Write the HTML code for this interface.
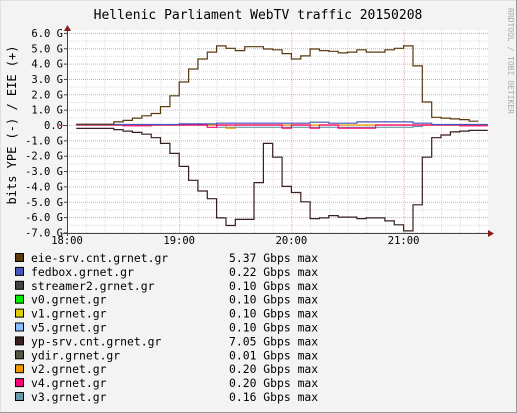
<!DOCTYPE html>
<html><head><meta charset="utf-8"><style>
html,body{margin:0;padding:0;background:#f3f3f3;}
svg{display:block;font-family:"DejaVu Sans Mono","Liberation Mono",monospace;}
</style></head><body>
<svg id="chart" width="517" height="413" viewBox="0 0 517 413" xmlns="http://www.w3.org/2000/svg">
<rect x="0" y="0" width="517" height="413" fill="#f3f3f3" stroke="#cfcfcf"/>
<line x1="0" y1="412.5" x2="517" y2="412.5" stroke="#999"/>
<line x1="516.5" y1="0" x2="516.5" y2="413" stroke="#999"/>
<text x="258" y="19" font-size="13" text-anchor="middle" fill="#000">Hellenic Parliament WebTV traffic 20150208</text>
<text transform="translate(16,125) rotate(-90)" font-size="12" text-anchor="middle" fill="#000">bits YPE (-) / EIE (+)</text>
<text transform="translate(508,8) rotate(90)" font-size="8" fill="#aaa">RRDTOOL / TOBI OETIKER</text>
<rect x="67" y="30" width="421" height="203" fill="#ffffff"/>
<g id="grid"></g>
<g id="series"></g>
<g id="axes"></g>
<g id="legend"></g>
</svg>
<script>
const ticksY = [6,5,4,3,2,1,0,-1,-2,-3,-4,-5,-6,-7];
const tickLabelsY = ["6.0 G","5.0 G","4.0 G","3.0 G","2.0 G","1.0 G","0.0","-1.0 G","-2.0 G","-3.0 G","-4.0 G","-5.0 G","-6.0 G","-7.0 G"];
const ticksX = [0,60,120,180];
const tickLabelsX = ["18:00","19:00","20:00","21:00"];
// minutes after 18:00 of first sample, 5 min step
const startMin = 5;
const stepMin = 5;
const eieSrv = [0.05,0.05,0.05,0.05,0.2,0.3,0.45,0.6,0.75,1.2,1.9,2.8,3.65,4.3,4.75,5.15,5.0,4.85,5.1,5.1,4.95,4.9,4.65,4.3,4.5,4.95,4.85,4.8,4.7,4.75,4.9,4.75,4.75,4.9,5.0,5.15,3.85,1.5,0.5,0.45,0.4,0.35,0.25];
const ypSrv = [-0.22,-0.22,-0.22,-0.22,-0.3,-0.4,-0.48,-0.6,-0.83,-1.2,-1.85,-2.7,-3.6,-4.3,-4.8,-6.05,-6.55,-6.15,-6.15,-3.75,-1.2,-2.1,-4.0,-4.4,-5.0,-6.1,-6.05,-5.9,-6.0,-6.0,-6.1,-6.05,-6.05,-6.25,-6.5,-6.9,-5.2,-2.1,-0.83,-0.65,-0.45,-0.4,-0.35,-0.35];
const fedbox = [0.03,0.03,0.03,0.03,0.03,0.03,0.03,0.03,0.03,0.03,0.03,0.07,0.07,0.07,0.07,0.12,0.12,0.12,0.12,0.12,0.12,0.12,0.12,0.12,0.12,0.18,0.18,0.12,0.12,0.12,0.2,0.2,0.2,0.2,0.2,0.2,0.12,0.12,0.03,0.03,0.03,0.03,0.03,0.03];
const v3 = [0,0,0,0,0,0,0,0,0,0,0,0,0,0,0,-0.15,-0.15,-0.15,-0.15,-0.15,-0.15,-0.15,-0.15,-0.15,-0.15,-0.15,-0.15,-0.15,-0.15,-0.15,-0.15,-0.15,-0.15,-0.15,-0.15,-0.15,-0.1,0,0,0,0,0,0,0];
const v4 = [0,0,0,0,0,-0.05,-0.05,-0.05,0,0,0,0,0,0,-0.15,0,0,0,0,0,0,0,-0.2,0,0,-0.2,0,0,-0.2,-0.2,-0.2,-0.2,0,0,0,0,0,0,0,0,0,-0.05,-0.05,-0.05];
const v2 = [0,0,0,0,0,0,0,0,0,0,0,0,0,0,0,0,-0.2,0,0,0,0,0,0,0,0,0,0,0,0,0,0,0,0,0,0,0,0,0,0,0,0,0,0,0];
const legendNames = ["eie-srv.cnt.grnet.gr","fedbox.grnet.gr","streamer2.grnet.gr","v0.grnet.gr","v1.grnet.gr","v5.grnet.gr","yp-srv.cnt.grnet.gr","ydir.grnet.gr","v2.grnet.gr","v4.grnet.gr","v3.grnet.gr"];
const legendMax = ["5.37","0.22","0.10","0.10","0.10","0.10","7.05","0.01","0.20","0.20","0.16"];
const legendColors = ["#5a3a0f","#4455bb","#444444","#00ee00","#ddcc00","#88bbff","#3a1f1f","#555544","#ee9900","#ff0077","#6699aa"];

const NS="http://www.w3.org/2000/svg";
const X0=67, PXMIN=112.2/60, Y0=125, PXG=15.35;
const xs=m=>X0+m*PXMIN;
const ys=v=>Y0-v*PXG;
function mk(tag,attrs,parent){const e=document.createElementNS(NS,tag);for(const k in attrs)e.setAttribute(k,attrs[k]);parent.appendChild(e);return e;}
const grid=document.getElementById('grid'),axes=document.getElementById('axes'),ser=document.getElementById('series'),leg=document.getElementById('legend');
for(let v=-7;v<=6.01;v+=0.5){if(Math.abs(v-Math.round(v))<0.01)continue;
 const l=mk('line',{x1:X0,x2:488,y1:ys(v)+0.5,y2:ys(v)+0.5,stroke:'#dddddd','stroke-dasharray':'1,1'},grid);
 
 }
for(let m=10;m<=225;m+=10){if(m%60===0)continue;
 const l=mk('line',{x1:xs(m)+0.5,x2:xs(m)+0.5,y1:30,y2:233,stroke:'#dddddd','stroke-dasharray':'1,1'},grid);
 
 }
ticksY.forEach((v,i)=>{
 const l=mk('line',{x1:X0,x2:488,y1:ys(v)+0.5,y2:ys(v)+0.5,stroke:'#f4a0a0','stroke-dasharray':'1,1'},grid);
 
 
 const t=mk('text',{x:63,y:ys(v)+4,'font-size':'10.5','text-anchor':'end',fill:'#000'},axes);t.textContent=tickLabelsY[i];
 
 
});
ticksX.forEach((m,i)=>{
 if(m>0){const l=mk('line',{x1:xs(m)+0.5,x2:xs(m)+0.5,y1:30,y2:233,stroke:'#f4a0a0','stroke-dasharray':'1,1'},grid);
 
 }
 const t=mk('text',{x:xs(m),y:244,'font-size':'10.5','text-anchor':'middle',fill:'#000'},axes);t.textContent=tickLabelsX[i];
 
 
});
function stepPath(arr,color,name){
 let d='';arr.forEach((v,i)=>{if(v===null)return;const a=xs(startMin+i*stepMin),b=xs(startMin+(i+1)*stepMin);const y=ys(v);
  d+=(d?'L':'M')+a.toFixed(1)+','+y.toFixed(1)+'L'+b.toFixed(1)+','+y.toFixed(1);});
 const p=mk('path',{d:d,fill:'none',stroke:color,'stroke-width':1.2},ser);
 
 
}
stepPath(v3,legendColors[10],'series-v3');
stepPath(v2,legendColors[8],'series-v2');
stepPath(v4,legendColors[9],'series-v4');
stepPath(fedbox,legendColors[1],'series-fedbox');
stepPath(eieSrv,legendColors[0],'series-eie-srv');
stepPath(ypSrv,legendColors[6],'series-yp-srv');
const zl=mk('line',{x1:60,x2:67,y1:Y0+0.5,y2:Y0+0.5,stroke:'#ff0000','stroke-dasharray':'2,1'},axes);


const ya=mk('line',{x1:X0+0.5,x2:X0+0.5,y1:28,y2:236,stroke:'#444'},axes);


const xa=mk('line',{x1:63,x2:490,y1:233.5,y2:233.5,stroke:'#444'},axes);


const ay=mk('path',{d:'M64,31L71,31L67.5,25Z',fill:'#8b1a1a'},axes);


const ax=mk('path',{d:'M488,230L488,237L494,233.5Z',fill:'#8b1a1a'},axes);


for(let v=-7;v<=6;v++){const t=mk('line',{x1:64,x2:67,y1:ys(v)+0.5,y2:ys(v)+0.5,stroke:'#444'},axes);
 
 }
legendNames.forEach((n,i)=>{
 const y=258+i*13.9;
 const g=mk('g',{},leg);
 
 
 mk('rect',{x:15.5,y:y-4.5,width:8,height:8,fill:legendColors[i],stroke:'#000'},g);
 const t=mk('text',{x:31,y:y+4,'font-size':'11.4',fill:'#000'},g);t.textContent=n;
 const v=mk('text',{x:229,y:y+4,'font-size':'11.4',fill:'#000','xml:space':'preserve'},g);v.textContent=legendMax[i]+' Gbps max';
});
</script>
</body></html>
